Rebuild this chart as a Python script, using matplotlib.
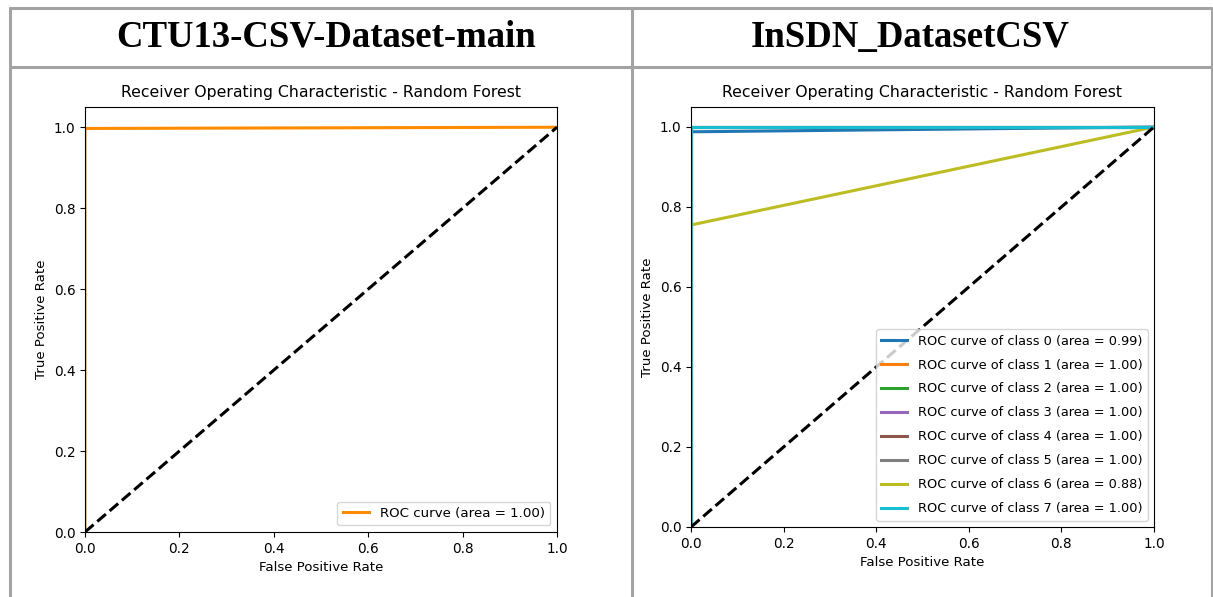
import matplotlib
matplotlib.use("Agg")
import matplotlib.pyplot as plt
from matplotlib.lines import Line2D

# data
headers = ["CTU13-CSV-Dataset-main", "InSDN_DatasetCSV"]

ctu_fpr = [0.0, 0.0, 1.0]
ctu_tpr = [0.0, 0.997, 1.0]
ctu_auc = 1.00

insdn_fpr = [
    [0.0, 0.0, 1.0],
    [0.0, 0.0, 1.0],
    [0.0, 0.0, 1.0],
    [0.0, 0.0, 1.0],
    [0.0, 0.0, 1.0],
    [0.0, 0.0, 1.0],
    [0.0, 0.0, 1.0],
    [0.0, 0.0, 1.0],
]
insdn_tpr = [
    [0.0, 0.988, 1.0],
    [0.0, 1.0, 1.0],
    [0.0, 1.0, 1.0],
    [0.0, 1.0, 1.0],
    [0.0, 1.0, 1.0],
    [0.0, 1.0, 1.0],
    [0.0, 0.755, 1.0],
    [0.0, 1.0, 1.0],
]
insdn_auc = [0.99, 1.00, 1.00, 1.00, 1.00, 1.00, 0.88, 1.00]
class_colors = ["#1f77b4", "#ff7f0e", "#2ca02c", "#9467bd",
                "#8c564b", "#7f7f7f", "#bcbd22", "#17becf"]

W, H = 1213, 597
fig = plt.figure(figsize=(W / 100, H / 100), dpi=100)


def px(x, y):
    return x / W, 1 - y / H


# table grid
grid_col = "#a3a3a3"
lw = 2.2
for (x0, y0), (x1, y1) in [((9, 8), (1212, 8)), ((9, 67), (1212, 67)),
                           ((10, 7), (10, 597)), ((631.5, 7), (631.5, 597)),
                           ((1211.5, 7), (1211.5, 597))]:
    a, b = px(x0, y0)
    c, d = px(x1, y1)
    fig.add_artist(Line2D([a, c], [b, d], color=grid_col, lw=lw, solid_capstyle="butt"))

for txt, cx in zip(headers, [326, 910]):
    x, y = px(cx, 37)
    fig.text(x, y, txt, ha="center", va="center", family="Liberation Serif",
             fontweight="bold", fontsize=26.5)


def style(ax):
    ax.set_xlim([0.0, 1.0])
    ax.set_ylim([0.0, 1.05])
    ax.set_xlabel("False Positive Rate", fontsize=9.6)
    ax.set_ylabel("True Positive Rate", fontsize=9.6)
    ax.set_title("Receiver Operating Characteristic - Random Forest",
                 fontsize=11.3, pad=7)
    ax.tick_params(labelsize=9.8)


# left plot
ax1 = fig.add_axes([85 / W, 1 - 532 / H, 472 / W, 425 / H])
ax1.plot(ctu_fpr, ctu_tpr, color="darkorange", lw=2.2,
         label="ROC curve (area = %0.2f)" % ctu_auc)
ax1.plot([0, 1], [0, 1], color="black", lw=2.2, linestyle="--")
style(ax1)
ax1.legend(loc="lower right", fontsize=9.6)

# right plot
ax2 = fig.add_axes([691 / W, 1 - 527 / H, 463 / W, 420 / H])
for i in range(len(insdn_auc)):
    ax2.plot(insdn_fpr[i], insdn_tpr[i], color=class_colors[i], lw=2.2,
             label="ROC curve of class {0} (area = {1:0.2f})".format(i, insdn_auc[i]))
ax2.plot([0, 1], [0, 1], "k--", lw=2.2)
style(ax2)
ax2.legend(loc="lower right", fontsize=9.3, labelspacing=0.85)

fig.savefig("out.png", dpi=100)
